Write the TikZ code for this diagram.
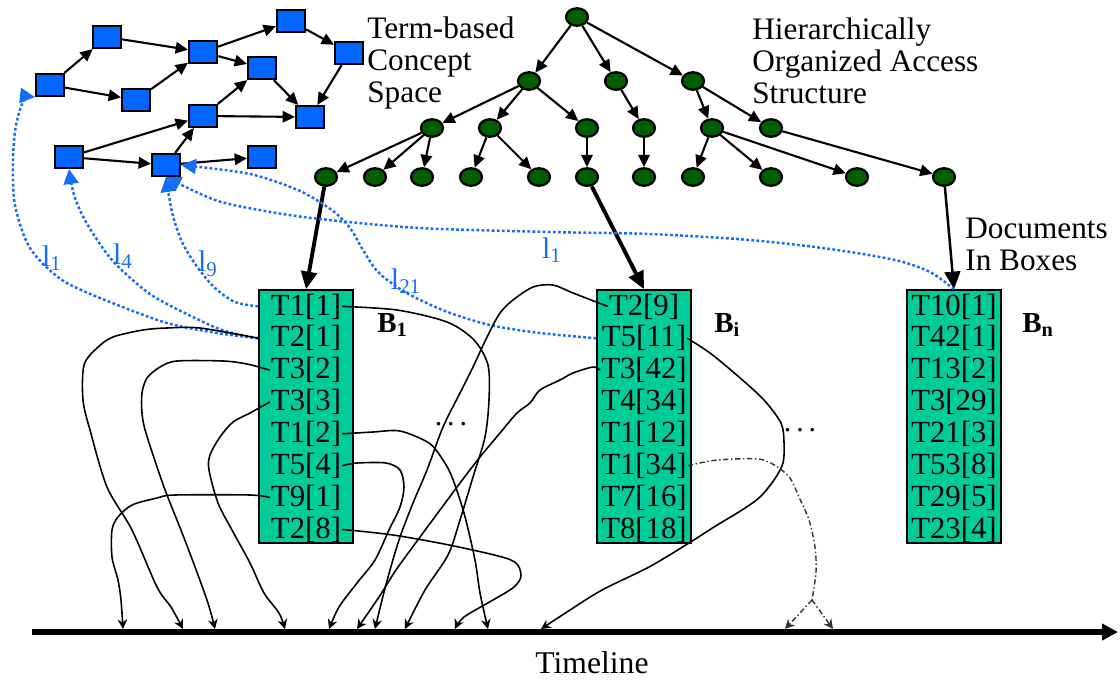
\documentclass[tikz,border=0pt]{standalone}
\usepackage{fontspec}
\setmainfont{Liberation Serif}
\usepackage{tikz}
\usetikzlibrary{arrows.meta, positioning, shapes.geometric, calc}
\definecolor{conceptblue}{RGB}{0,102,255}
\definecolor{linkblue}{RGB}{20,110,250}
\definecolor{boxgreen}{RGB}{0,204,153}
\definecolor{treegreen}{RGB}{0,96,0}

\begin{document}
\begin{tikzpicture}[x=0.02cm, y=-0.02cm,
  concept/.style={draw, line width=1.2pt, fill=conceptblue, minimum width=0.56cm, minimum height=0.44cm, inner sep=0pt},
  term/.style={draw, line width=1.3pt, fill=treegreen, ellipse, minimum width=0.44cm, minimum height=0.35cm, inner sep=0pt},
  rel/.style={-{Triangle[length=7pt,width=6.5pt]}, line width=1.2pt},
  feed/.style={-{Triangle[length=10pt,width=9pt]}, line width=2.2pt},
  docbox/.style={draw, line width=1pt, fill=boxgreen, minimum width=1.88cm, minimum height=5.06cm, inner sep=0pt},
  entry/.style={inner sep=0.5pt, font=\fontsize{17.5}{18}\selectfont},
  link/.style={linkblue, line width=1.4pt, dash pattern=on 1.6pt off 1.3pt, -{Triangle[length=8.5pt,width=8.5pt]}},
  linklabel/.style={text=linkblue, font=\fontsize{17}{18}\selectfont},
  flow/.style={line width=0.9pt, -{Stealth[length=5.5pt,width=5.5pt]}},
  forkline/.style={line width=0.8pt, black!80, dash pattern=on 3pt off 1.5pt on 0.8pt off 1.5pt},
  caption/.style={font=\fontsize{17.8}{18.1}\selectfont, align=left, anchor=north west, inner sep=0pt},
  boxname/.style={font=\fontsize{16.5}{18}\selectfont\bfseries, anchor=base west, inner sep=0pt},
]
\useasboundingbox (0,0) rectangle (1120,681);

% term-based concept space
\node[concept] (c1) at (50,85) {};
\node[concept] (c2) at (107,37) {};
\node[concept] (c3) at (136,100) {};
\node[concept] (c4) at (203,52) {};
\node[concept] (c5) at (291,21) {};
\node[concept] (c6) at (262,68) {};
\node[concept] (c7) at (349,53) {};
\node[concept] (c8) at (203,116) {};
\node[concept] (c9) at (310,117) {};
\node[concept] (c10) at (69,157) {};
\node[concept] (c11) at (166,165) {};
\node[concept] (c12) at (262,157) {};
\foreach \a/\b in {c1/c2, c1/c3, c2/c4, c3/c4, c4/c5, c4/c6, c5/c7, c7/c9, c6/c9, c8/c6, c8/c9, c10/c8, c10/c11, c11/c8, c11/c12}
  \draw[rel] (\a) -- (\b);

% access structure
\node[term] (h0) at (577,17) {};
\node[term] (h1) at (529,81) {};
\node[term] (h2) at (616,81) {};
\node[term] (h3) at (693,81) {};
\node[term] (h11) at (432,128) {};
\node[term] (h12) at (490,128) {};
\node[term] (h13) at (587,128) {};
\node[term] (h21) at (644,128) {};
\node[term] (h31) at (712,128) {};
\node[term] (h32) at (771,128) {};
\node[term] (h111) at (326,177) {};
\node[term] (h112) at (375,177) {};
\node[term] (h113) at (422,177) {};
\node[term] (h121) at (471,177) {};
\node[term] (h122) at (539,177) {};
\node[term] (h131) at (587,177) {};
\node[term] (h211) at (644,177) {};
\node[term] (h311) at (693,177) {};
\node[term] (h312) at (771,177) {};
\node[term] (h313) at (857,177) {};
\node[term] (h321) at (944,177) {};
\foreach \a/\b in {h0/h1, h0/h2, h0/h3, h1/h11, h1/h12, h1/h13, h2/h21, h3/h31, h3/h32,
  h11/h111, h11/h112, h11/h113, h12/h121, h12/h122, h13/h131, h21/h211,
  h31/h311, h31/h312, h31/h313, h32/h321}
  \draw[rel] (\a) -- (\b);

\node[caption] (cslabel) at (367,16.5) {Term-based\\Concept\\Space};
\node[caption] (hlabel) at (752,17.5) {Hierarchically\\Organized Access\\Structure};
\node[caption] (dlabel) at (965,217.5) {Documents\\In Boxes};

% document boxes
\node[docbox] (b1) at (306,416.5) {};
\node[docbox] (bi) at (644,416.5) {};
\node[docbox] (bn) at (954,416.5) {};
\foreach \t [count=\i] in {T1[1],T2[1],T3[2],T3[3],T1[2],T5[4],T9[1],T2[8]}
  \node[entry, anchor=base] (b1r\i) at (306,{315+31.86*(\i-1)}) {\t};
\foreach \t [count=\i] in {T2[9],T5[11],T3[42],T4[34],T1[12],T1[34],T7[16],T8[18]}
  \node[entry, anchor=base] (bir\i) at (644,{315+31.86*(\i-1)}) {\t};
\foreach \t [count=\i] in {T10[1],T42[1],T13[2],T3[29],T21[3],T53[8],T29[5],T23[4]}
  \node[entry, anchor=base] (bnr\i) at (954,{315+31.86*(\i-1)}) {\t};
\node[boxname] (b1name) at (377,332) {B\textsubscript{1}};
\node[boxname] (biname) at (714,332) {B\textsubscript{i}};
\node[boxname] (bnname) at (1022,332) {B\textsubscript{n}};

\draw[feed] (h111) -- (b1.north);
\draw[feed] (h131) -- (bi.north);
\draw[line width=1.4pt, -{Triangle[length=10pt,width=9pt]}] (h321) -- (bn.north);

% links from boxes back to concepts
\coordinate (b1l1) at (b1.west |- b1r1);
\coordinate (b1l2) at (b1.west |- b1r2);
\coordinate (bil2) at (bi.west |- bir2);
\draw[link] plot[smooth] coordinates {(b1l2) (217,333) (167,323) (110,302) (62,280) (30,248) (15,205) (13,160) (16,125) (24,100) (c1.south west)};
\draw[link] plot[smooth] coordinates {(b1l2) (225,331) (195,318) (150,294) (112,260) (86,222) (74,195) (c10.south)};
\draw[link] plot[smooth] coordinates {(b1l1) (235,302) (215,288) (198,268) (182,242) (172,212) (c11.south)};
\draw[link] plot[smooth] coordinates {(bil2) (540,333) (490,325) (445,311) (405,292) (378,272) (363,250) (350,228) (333,211) (300,191) (250,174) (c11.east)};
\draw[link] plot[smooth] coordinates {(bn.north) (930,272) (895,260) (830,249) (750,240) (650,234) (550,232) (420,228) (320,219) (265,211) (215,200) (c11.south)};
\node[linklabel] (lab1) at (52,258) {l\textsubscript{1}};
\node[linklabel] (lab4) at (123,256) {l\textsubscript{4}};
\node[linklabel] (lab9) at (208,264) {l\textsubscript{9}};
\node[linklabel] (lab21) at (406,281) {l\textsubscript{21}};
\node[linklabel] (lab1b) at (552,250) {l\textsubscript{1}};

% timeline
\coordinate (tlstart) at (32,632);
\coordinate (tlend) at (1118,632);
\draw[line width=3.4pt, -{Triangle[length=9pt,width=9pt]}] (tlstart) -- (tlend);
\node[font=\fontsize{18}{18}\selectfont] (tlabel) at (592,663) {Timeline};
\foreach \x in {123,183,215,285,329,357,375,405,455,488,541,785,833}
  \coordinate (t\x) at (\x,629);

% occurrences on the timeline
\draw[flow] plot[smooth] coordinates {(b1r1.east) (397,310) (447,322) (474,340) (488,365) (489,400) (485,437) (473,477) (460,520) (448,555) (425,590) (t405)};
\draw[flow] plot[smooth] coordinates {(b1r5.east) (373,432) (400,431) (429,443) (443,460) (452,477) (464,513) (475,560) (480,593) (t488)};
\draw[flow] plot[smooth] coordinates {(b1r6.east) (357,463) (386,463) (400,470) (404,487) (400,507) (389,530) (375,560) (357,583) (339,607) (t329)};
\draw[flow] plot[smooth] coordinates {(b1r8.east) (393,535) (454,546) (511,560) (521,575) (514,587) (493,600) (464,617) (t455)};
\draw[flow] plot[smooth] coordinates {(b1l2) (200,328) (167,328) (143,330) (113,337) (97,348) (84,365) (83,400) (90,430) (107,487) (132,530) (157,587) (171,607) (t183)};
\draw[flow] plot[smooth] coordinates {(b1r3.west) (247,364) (223,361) (177,361) (160,367) (147,378) (142,393) (142,413) (146,433) (164,487) (186,543) (207,600) (t215)};
\draw[flow] plot[smooth] coordinates {(b1r4.west) (250,413) (233,422) (220,437) (210,455) (209,470) (218,503) (232,530) (250,563) (264,593) (279,613) (t285)};
\draw[flow] plot[smooth] coordinates {(b1r7.west) (250,495) (175,495) (157,498) (132,505) (118,517) (112,530) (112,557) (118,580) (121,600) (t123)};
\draw[flow] plot[smooth] coordinates {(bir1.west) (573,293) (553,285) (533,287) (513,300) (500,313) (487,337) (473,367) (460,393) (443,427) (427,470) (413,503) (400,537) (390,570) (382,600) (t375)};
\draw[flow] plot[smooth] coordinates {(bir3.west) (593,367) (573,373) (560,380) (540,390) (530,403) (517,413) (500,433) (480,457) (460,483) (440,510) (420,537) (396,570) (379,597) (t357)};
\draw[flow] plot[smooth] coordinates {(bir2.east) (710,353) (739,377) (764,400) (781,423) (784,442) (783,463) (774,480) (760,497) (742,510) (714,527) (689,543) (649,567) (602,590) (570,610) (t541)};
\coordinate (fork) at (812,600);
\draw[forkline] plot[smooth] coordinates {(bir6.east) (717,460) (758,459) (776,466) (790,478) (799,497) (809,520) (815,547) (816,572) (fork)};
\draw[forkline, -{Stealth[length=5.5pt,width=5.5pt]}] (fork) -- (t785);
\draw[forkline, -{Stealth[length=5.5pt,width=5.5pt]}] (fork) -- (t833);

\node[font=\fontsize{17}{18}\selectfont, anchor=base] (gap1) at (451,425) {.\,.\,.};
\node[font=\fontsize{17}{18}\selectfont, anchor=base] (gap2) at (800,431) {.\,.\,.};
\end{tikzpicture}
\end{document}
